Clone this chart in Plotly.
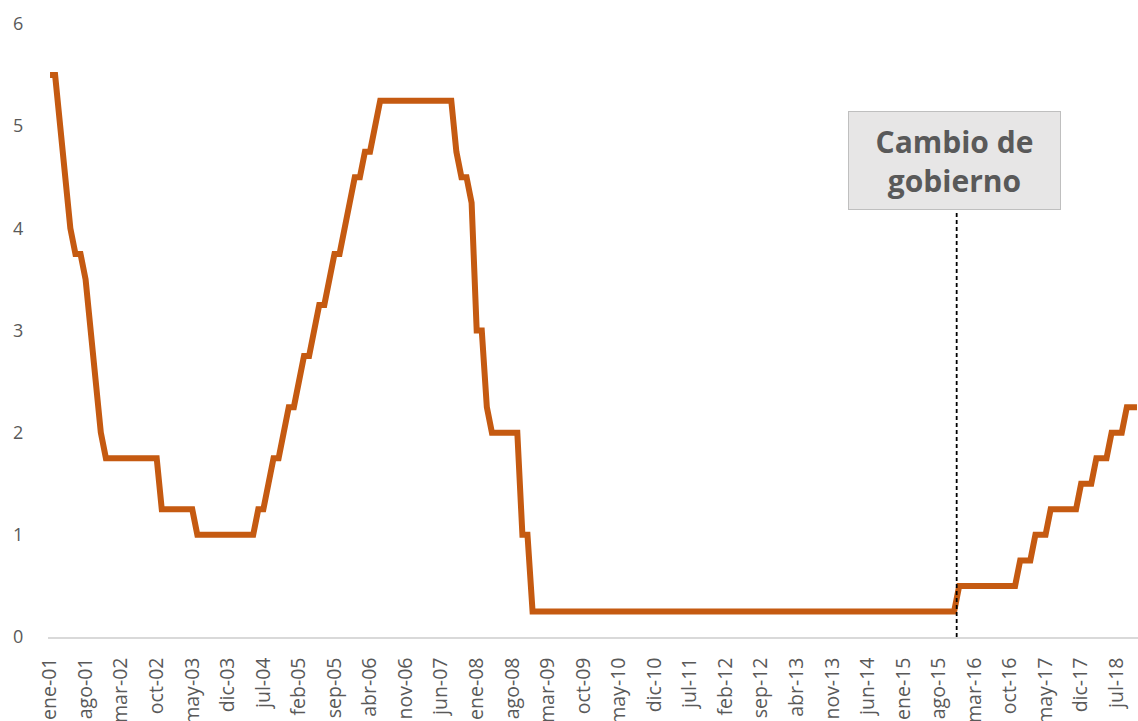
import plotly.graph_objects as go

# ---------------- data ----------------
month_abbr = ["ene", "feb", "mar", "abr", "may", "jun",
              "jul", "ago", "sep", "oct", "nov", "dic"]
years = list(range(2001, 2019))

# monthly policy rate (%), one list per year
rate_2001 = [5.5, 5.5, 5.0, 4.5, 4.0, 3.75, 3.75, 3.5, 3.0, 2.5, 2.0, 1.75]
rate_2002 = [1.75, 1.75, 1.75, 1.75, 1.75, 1.75, 1.75, 1.75, 1.75, 1.75, 1.25, 1.25]
rate_2003 = [1.25, 1.25, 1.25, 1.25, 1.25, 1.0, 1.0, 1.0, 1.0, 1.0, 1.0, 1.0]
rate_2004 = [1.0, 1.0, 1.0, 1.0, 1.0, 1.25, 1.25, 1.5, 1.75, 1.75, 2.0, 2.25]
rate_2005 = [2.25, 2.5, 2.75, 2.75, 3.0, 3.25, 3.25, 3.5, 3.75, 3.75, 4.0, 4.25]
rate_2006 = [4.5, 4.5, 4.75, 4.75, 5.0, 5.25, 5.25, 5.25, 5.25, 5.25, 5.25, 5.25]
rate_2007 = [5.25, 5.25, 5.25, 5.25, 5.25, 5.25, 5.25, 5.25, 4.75, 4.5, 4.5, 4.25]
rate_2008 = [3.0, 3.0, 2.25, 2.0, 2.0, 2.0, 2.0, 2.0, 2.0, 1.0, 1.0, 0.25]
rate_2009 = [0.25, 0.25, 0.25, 0.25, 0.25, 0.25, 0.25, 0.25, 0.25, 0.25, 0.25, 0.25]
rate_2010 = [0.25, 0.25, 0.25, 0.25, 0.25, 0.25, 0.25, 0.25, 0.25, 0.25, 0.25, 0.25]
rate_2011 = [0.25, 0.25, 0.25, 0.25, 0.25, 0.25, 0.25, 0.25, 0.25, 0.25, 0.25, 0.25]
rate_2012 = [0.25, 0.25, 0.25, 0.25, 0.25, 0.25, 0.25, 0.25, 0.25, 0.25, 0.25, 0.25]
rate_2013 = [0.25, 0.25, 0.25, 0.25, 0.25, 0.25, 0.25, 0.25, 0.25, 0.25, 0.25, 0.25]
rate_2014 = [0.25, 0.25, 0.25, 0.25, 0.25, 0.25, 0.25, 0.25, 0.25, 0.25, 0.25, 0.25]
rate_2015 = [0.25, 0.25, 0.25, 0.25, 0.25, 0.25, 0.25, 0.25, 0.25, 0.25, 0.25, 0.5]
rate_2016 = [0.5, 0.5, 0.5, 0.5, 0.5, 0.5, 0.5, 0.5, 0.5, 0.5, 0.5, 0.75]
rate_2017 = [0.75, 0.75, 1.0, 1.0, 1.0, 1.25, 1.25, 1.25, 1.25, 1.25, 1.25, 1.5]
rate_2018 = [1.5, 1.5, 1.75, 1.75, 1.75, 2.0, 2.0, 2.0, 2.25, 2.25, 2.25]

yearly_rates = [rate_2001, rate_2002, rate_2003, rate_2004, rate_2005, rate_2006,
                rate_2007, rate_2008, rate_2009, rate_2010, rate_2011, rate_2012,
                rate_2013, rate_2014, rate_2015, rate_2016, rate_2017, rate_2018]

y_ticks = [0, 1, 2, 3, 4, 5, 6]
event_text = "Cambio de<br>gobierno"
event_between = ("nov-15", "dic-15")

# ---------------- build ----------------
months, values = [], []
for yr, vals in zip(years, yearly_rates):
    for m, v in zip(month_abbr, vals):
        months.append(f"{m}-{str(yr)[2:]}")
        values.append(v)

tick_labels = months[::7]

LINE_COLOR = "#C55A11"
TEXT_GRAY = "#595959"

fig = go.Figure()
fig.add_trace(go.Scatter(
    x=months, y=values, mode="lines",
    line=dict(color=LINE_COLOR, width=6),
    hoverinfo="x+y",
))

event_x = (months.index(event_between[0]) + months.index(event_between[1])) / 2

fig.add_shape(type="line", xref="x", yref="y",
              x0=event_x, x1=event_x, y0=0, y1=4.17,
              line=dict(color="black", width=1.8, dash="4px,3px"))

fig.add_annotation(
    x=event_x, y=4.66, xref="x", yref="y", xshift=-2,
    text=f"<b>{event_text}</b>", showarrow=False,
    font=dict(family="Open Sans", size=30, color=TEXT_GRAY),
    align="center", xanchor="center", yanchor="middle",
    bgcolor="#E7E6E6", bordercolor="#BFBFBF", borderwidth=1,
    borderpad=2, width=207, height=93,
)

fig.update_layout(
    width=1138, height=721,
    margin=dict(l=48, r=0, t=24, b=84),
    plot_bgcolor="white", paper_bgcolor="white",
    showlegend=False,
    font=dict(family="Open Sans", color=TEXT_GRAY, size=18),
)

fig.update_xaxes(
    type="category",
    range=[-0.4, len(months) - 1 + 0.2],
    tickmode="array", tickvals=tick_labels, ticktext=tick_labels,
    tickangle=-90, tickfont=dict(size=19.5, color=TEXT_GRAY),
    ticks="outside", ticklen=11, tickcolor="rgba(0,0,0,0)",
    showgrid=False, zeroline=False,
    showline=True, linecolor="#D9D9D9", linewidth=1.5,
    automargin=False,
)

fig.update_yaxes(
    range=[0, 6], tickmode="array", tickvals=y_ticks,
    tickfont=dict(size=18, color=TEXT_GRAY),
    ticks="outside", ticklen=20, tickcolor="rgba(0,0,0,0)",
    showgrid=False, zeroline=False, showline=False,
    automargin=False,
)

# remove the default 8px page margin so the figure fills the window exactly
fig.write_html(
    "out.html",
    config={"displayModeBar": False},
    post_script="document.body.style.margin='0';document.body.style.overflow='hidden';",
)
